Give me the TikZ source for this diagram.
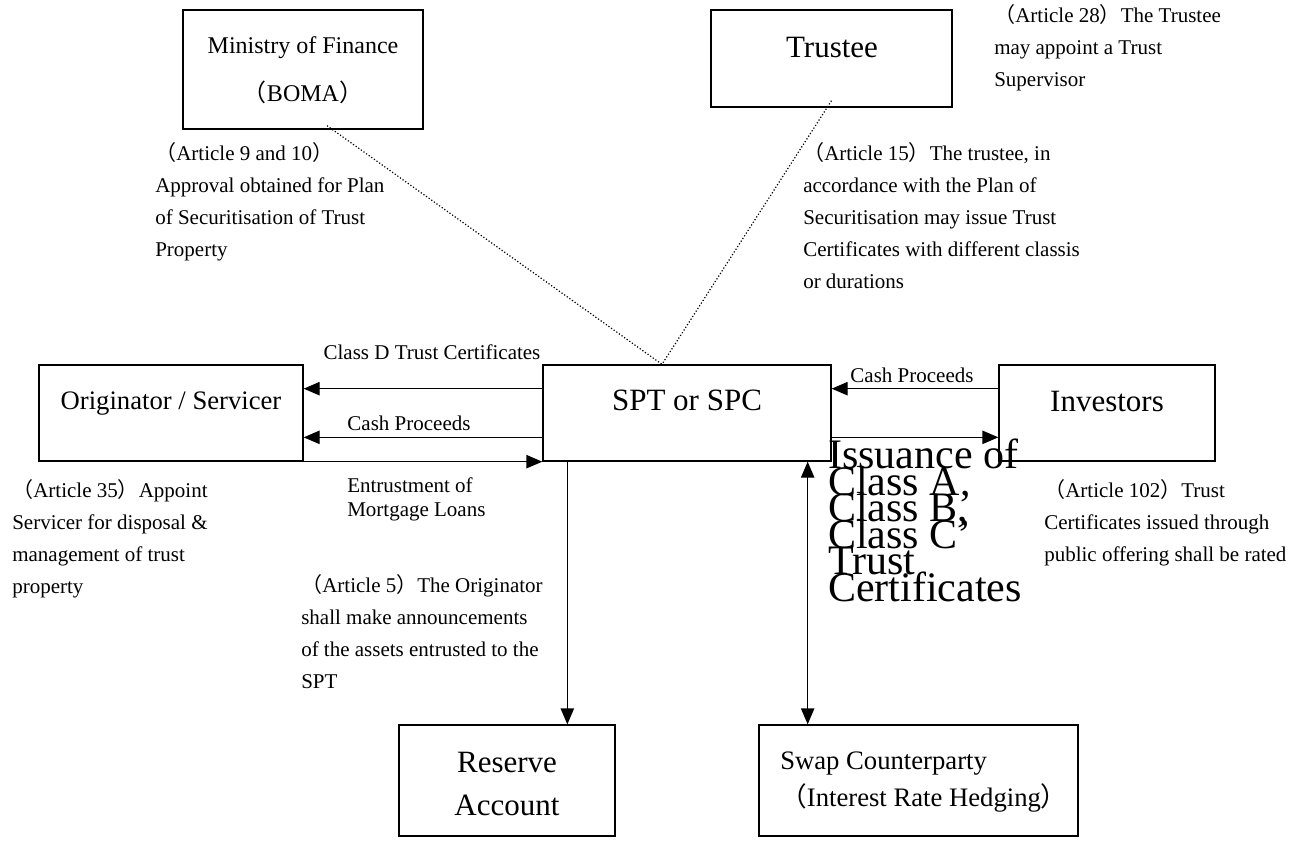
\documentclass[tikz,border=0pt]{standalone}
\usepackage{fontspec}
\setmainfont{Liberation Serif}
\newfontfamily\cjk{Noto Sans CJK SC}
\usetikzlibrary{arrows.meta,calc}
\newcommand{\fwl}{{\cjk （}}
\newcommand{\fwr}{{\cjk ）}}
\newcommand{\tightlines}{\lineskiplimit=-100pt\relax}

\begin{document}
\begin{tikzpicture}[x=0.75pt,y=0.75pt,yscale=-1,xscale=1,
    >={Triangle[length=12pt,width=10pt]},
    box/.style={draw, line width=1pt, inner sep=0pt},
    lbl/.style={inner sep=0pt, align=center, font=\fontsize{23.25}{28}\selectfont},
    note/.style={anchor=north west, inner sep=0pt, align=left, font=\fontsize{15.75}{24}\selectfont},
    flow/.style={line width=1pt},
    link/.style={line width=0.9pt, dash pattern=on 0.9pt off 1.5pt}]
    \useasboundingbox (0,0) rectangle (1304,847);

    %Shape: Rectangle
    \node [box, minimum width=180pt, minimum height=89.25pt] (mof) at (303,69.5) {};
    %Shape: Rectangle
    \node [box, minimum width=180.75pt, minimum height=72.75pt] (trustee) at (831.5,58.5) {};
    %Shape: Rectangle
    \node [box, minimum width=198pt, minimum height=72pt] (orig) at (171,413) {};
    %Shape: Rectangle
    \node [box, minimum width=216pt, minimum height=72pt] (spt) at (687,413) {};
    %Shape: Rectangle
    \node [box, minimum width=162pt, minimum height=72pt] (inv) at (1107,413) {};
    %Shape: Rectangle
    \node [box, minimum width=162pt, minimum height=83.25pt] (reserve) at (507,780.5) {};
    %Shape: Rectangle
    \node [box, minimum width=239.25pt, minimum height=83.25pt] (swap) at (918.5,780.5) {};

    % Text Node
    \node [lbl, font=\fontsize{18}{36}\selectfont] (moflbl) at (303,70) {Ministry of Finance\\\fwl BOMA\fwr};
    % Text Node
    \node [lbl] (trusteelbl) at (832,47) {Trustee};
    % Text Node
    \node [lbl, font=\fontsize{20}{24}\selectfont] (origlbl) at (171,404) {Originator / Servicer};
    % Text Node
    \node [lbl] (sptlbl) at (687,400) {SPT or SPC};
    % Text Node
    \node [lbl] (invlbl) at (1107,401) {Investors};
    % Text Node
    \node [lbl, font=\fontsize{23.25}{32.25}\selectfont] (reservelbl) at (507,784) {Reserve\\Account};
    % Text Node
    \node [lbl, anchor=west, align=left, font=\fontsize{20}{27.75}\selectfont] (swaplbl) at (780,782) {Swap Counterparty\\\fwl Interest Rate Hedging\fwr};

    %Straight Lines
    \coordinate (meet) at ($(spt.north)+(-25,0)$);
    \draw [link] ($(mof.south)+(24,-4)$) -- (meet);
    \draw [link] ($(trustee.south)+(0,-7)$) -- (meet);
    %Straight Lines
    \coordinate (cdS) at ($(spt.north west)!.25!(spt.south west)$);
    \coordinate (cpS) at ($(spt.north west)!.75!(spt.south west)$);
    \draw [flow,->] (cdS) -- (cdS -| orig.east);
    \draw [flow,->] (cpS) -- (cpS -| orig.east);
    \draw [flow,->] (orig.south east) -- (spt.south west);
    %Straight Lines
    \coordinate (cpI) at ($(inv.north west)!.25!(inv.south west)$);
    \coordinate (isS) at ($(spt.north east)!.75!(spt.south east)$);
    \draw [flow,->] (cpI) -- (cpI -| spt.east);
    \draw [flow,->] (isS) -- (isS -| inv.west);
    %Straight Lines
    \coordinate (resS) at ($(spt.south west)+(25,0)$);
    \coordinate (swpS) at ($(spt.south east)+(-24,0)$);
    \draw [flow,->] (resS) -- (resS |- reserve.north);
    \draw [flow,<->] (swpS) -- (swpS |- swap.north);

    % Text Node
    \node [lbl, font=\fontsize{15.75}{20}\selectfont] (classd) at (432,352) {Class D Trust Certificates};
    % Text Node
    \node [lbl, font=\fontsize{15.75}{20}\selectfont] (cashl) at (409,423) {Cash Proceeds};
    % Text Node
    \node [lbl, font=\fontsize{15.75}{20}\selectfont] (cashr) at (912,375) {Cash Proceeds};
    % Text Node
    \node [note, font=\fontsize{15.75}{18}\selectfont] (entrust) at (347,477) {Entrustment of\\Mortgage Loans};
    % Text Node
    \node [note, font=\fontsize{31.5}{19.9}\selectfont\tightlines] (issue) at (828,439) {Issuance of\\Class A,\\Class B,\\Class C’\\Trust\\Certificates};
    % Text Node
    \node [note] (art9) at (155,142) {\fwl Article 9 and 10\fwr\\Approval obtained for Plan\\of Securitisation of Trust\\Property};
    % Text Node
    \node [note] (art15) at (803,142) {\fwl Article 15\fwr The trustee, in\\accordance with the Plan of\\Securitisation may issue Trust\\Certificates with different classis\\or durations};
    % Text Node
    \node [note] (art28) at (994,4) {\fwl Article 28\fwr The Trustee\\may appoint a Trust\\Supervisor};
    % Text Node
    \node [note] (art35) at (12,479) {\fwl Article 35\fwr Appoint\\Servicer for disposal \&\\management of trust\\property};
    % Text Node
    \node [note] (art5) at (301,574) {\fwl Article 5\fwr The Originator\\shall make announcements\\of the assets entrusted to the\\SPT};
    % Text Node
    \node [note] (art102) at (1044,479) {\fwl Article 102\fwr Trust\\Certificates issued through\\public offering shall be rated};

\end{tikzpicture}
\end{document}
